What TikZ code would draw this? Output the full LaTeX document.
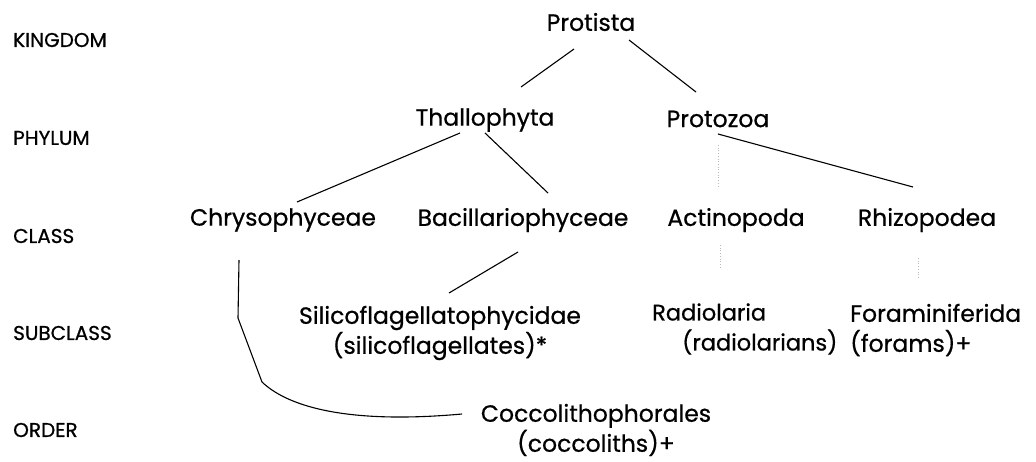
\documentclass[tikz,border=0pt]{standalone}
\usepackage{fontspec}
\setmainfont{Poppins}[FakeBold=0.7]
\usepackage{tikz}

\begin{document}
\begin{tikzpicture}[x=1pt,y=-1pt,
  txt/.style={inner sep=0pt,font=\fontsize{23.5}{30}\selectfont,align=center},
  rank/.style={inner sep=0pt,anchor=west,font=\fontsize{20}{24}\selectfont},
  link/.style={line width=1.1pt,black},
  faint/.style={line width=0.7pt,gray!55,dotted}]

  \useasboundingbox (0,0) rectangle (1036,461);

  % rank labels on the left
  \node[rank] (rkingdom)  at (13,40)  {KINGDOM};
  \node[rank] (rphylum)   at (13,138) {PHYLUM};
  \node[rank] (rclass)    at (13,236) {CLASS};
  \node[rank] (rsubclass) at (13,333) {SUBCLASS};
  \node[rank] (rorder)    at (13,430) {ORDER};

  % the tree
  \node[txt] (protista) at (591,22)  {Protista};
  \node[txt] (thallo)   at (485,120) {Thallophyta};
  \node[txt] (protozoa) at (718,119) {Protozoa};
  \node[txt] (chryso)   at (283,220) {Chrysophyceae};
  \node[txt] (bacill)   at (523,220) {Bacillariophyceae};
  \node[txt] (actino)   at (736,220) {Actinopoda};
  \node[txt] (rhizo)    at (927,220) {Rhizopodea};
  \node[txt] (silico)   at (440,333) {Silicoflagellatophycidae\\(silicoflagellates)*};
  \node[txt,align=left,anchor=west,font=\fontsize{22.5}{30}\selectfont] (radio) at (652,329)
        {Radiolaria\\\hspace*{30pt}(radiolarians)};
  \node[txt,align=left,anchor=west] (foram) at (850,330)
        {Foraminiferida\\(forams)+};
  \node[txt] (cocco)    at (596,430) {Coccolithophorales\\(coccoliths)+};

  \draw[link] ([shift={(-17,27)}]protista.center) -- ([shift={(36,-33)}]thallo.center);
  \draw[link] ([shift={(38,18)}]protista.center) -- ([shift={(-22,-27)}]protozoa.center);
  \draw[link] ([shift={(-25,13)}]thallo.center) -- ([shift={(14,-18)}]chryso.center);
  \draw[link] ([shift={(0,13)}]thallo.center) -- ([shift={(25,-27)}]bacill.center);
  \draw[link] ([shift={(0,15)}]protozoa.center) -- ([shift={(-14,-33)}]rhizo.center);
  \draw[link] ([shift={(-5,32)}]bacill.center) -- ([shift={(9,-40)}]silico.center);
  \draw[link] ([shift={(-44,40)}]chryso.center) -- (238,318) -- (262,382)
        .. controls (285,404) and (340,425) .. ([shift={(-134,-16)}]cocco.center);

  \draw[faint] ([shift={(0,26)}]protozoa.center) -- ([shift={(-18,-32)}]actino.center);
  \draw[faint] ([shift={(-16,25)}]actino.center) -- ([shift={(68,-60)}]radio.west);
  \draw[faint] ([shift={(-9,38)}]rhizo.center) -- ([shift={(68,-53)}]foram.west);

\end{tikzpicture}
\end{document}
